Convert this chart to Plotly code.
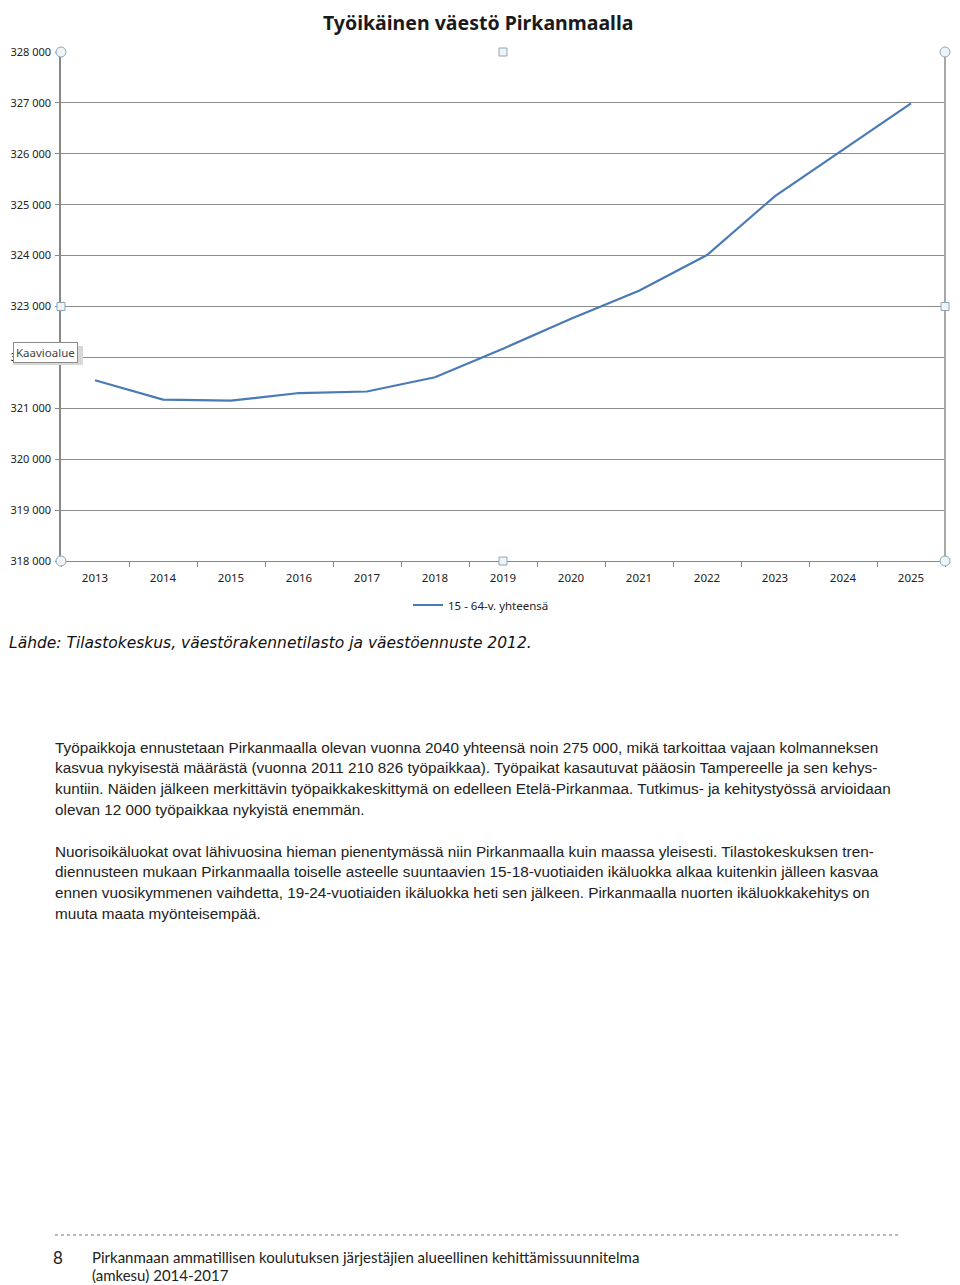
import plotly.graph_objects as go

# Data
years = ["2013", "2014", "2015", "2016", "2017", "2018", "2019",
         "2020", "2021", "2022", "2023", "2024", "2025"]
population = [321550, 321170, 321150, 321300, 321330, 321610, 322170,
              322760, 323310, 324010, 325170, 326080, 326990]
y_ticks = [318000, 319000, 320000, 321000, 322000, 323000,
           324000, 325000, 326000, 327000, 328000]
y_labels = [f"{v:,}".replace(",", " ") for v in y_ticks]

title_text = "Työikäinen väestö Pirkanmaalla"
series_name = "15 - 64-v. yhteensä"
source_text = "Lähde: Tilastokeskus, väestörakennetilasto ja väestöennuste 2012."
para1 = [
    "Työpaikkoja ennustetaan Pirkanmaalla olevan vuonna 2040 yhteensä noin 275 000, mikä tarkoittaa vajaan kolmanneksen",
    "kasvua nykyisestä määrästä (vuonna 2011 210 826 työpaikkaa). Työpaikat kasautuvat pääosin Tampereelle ja sen kehys-",
    "kuntiin. Näiden jälkeen merkittävin työpaikkakeskittymä on edelleen Etelä-Pirkanmaa. Tutkimus- ja kehitystyössä arvioidaan",
    "olevan 12 000 työpaikkaa nykyistä enemmän.",
]
para2 = [
    "Nuorisoikäluokat ovat lähivuosina hieman pienentymässä niin Pirkanmaalla kuin maassa yleisesti. Tilastokeskuksen tren-",
    "diennusteen mukaan Pirkanmaalla toiselle asteelle suuntaavien 15-18-vuotiaiden ikäluokka alkaa kuitenkin jälleen kasvaa",
    "ennen vuosikymmenen vaihdetta, 19-24-vuotiaiden ikäluokka heti sen jälkeen. Pirkanmaalla nuorten ikäluokkakehitys on",
    "muuta maata myönteisempää.",
]
footer_num = "8"
footer_lines = ["Pirkanmaan ammatillisen koulutuksen järjestäjien alueellinen kehittämissuunnitelma",
                "(amkesu) 2014-2017"]

# the page body has an 8px margin, so the figure is drawn 8px smaller
OFF = 8
W, H = 960 - OFF, 1285 - OFF
L, R, T, B = 61, 945, 52, 561  # plot area in page pixels


def px(x):
    return (x - L) / (R - L)


def py(y):
    return (B - y) / (B - T)


fig = go.Figure()
fig.add_trace(go.Scatter(
    x=years, y=population, mode="lines", name=series_name,
    line=dict(color="#4a7ab5", width=2.2),
))

ann = []
ann.append(dict(x=px(478), y=py(22), xref="paper", yref="paper", text=f"<b>{title_text}</b>",
                showarrow=False, xanchor="center", yanchor="middle",
                font=dict(family="Noto Sans", size=19.5, color="#1a1a1a")))
ann.append(dict(x=px(OFF), y=py(643), xref="paper", yref="paper", text=f"<i>{source_text}</i>",
                showarrow=False, xanchor="left", yanchor="middle", borderpad=0,
                font=dict(family="DejaVu Sans", size=15.5, color="#111")))
for i, line in enumerate(para1):
    ann.append(dict(x=px(53), y=py(747 + i * 20.7), xref="paper", yref="paper", text=line,
                    showarrow=False, xanchor="left", yanchor="middle",
                    font=dict(family="Liberation Sans", size=15.3, color="#222")))
for i, line in enumerate(para2):
    ann.append(dict(x=px(53), y=py(851 + i * 20.7), xref="paper", yref="paper", text=line,
                    showarrow=False, xanchor="left", yanchor="middle",
                    font=dict(family="Liberation Sans", size=15.3, color="#222")))
ann.append(dict(x=px(58), y=py(1257), xref="paper", yref="paper", text=footer_num,
                showarrow=False, xanchor="center", yanchor="middle",
                font=dict(family="Lato", size=17, color="#222")))
for i, line in enumerate(footer_lines):
    ann.append(dict(x=px(90), y=py(1257 + i * 18), xref="paper", yref="paper", text=line,
                    showarrow=False, xanchor="left", yanchor="middle",
                    font=dict(family="Lato", size=15, color="#222")))
# "Kaavioalue" tooltip left over from the screenshot
ann.append(dict(x=px(45), y=py(352.5), xref="paper", yref="paper", text="Kaavioalue",
                showarrow=False, xanchor="center", yanchor="middle",
                bgcolor="white", bordercolor="#8a8a8a", borderwidth=1, borderpad=2,
                font=dict(family="Noto Sans", size=11.5, color="#444")))

shapes = [
    # right frame of the chart area
    dict(type="line", xref="paper", yref="paper", x0=1, x1=1, y0=0, y1=1,
         line=dict(color="#a8a8a8", width=2)),
    # footer dotted rule
    dict(type="line", xref="paper", yref="paper", x0=px(55), x1=px(898), y0=py(1235), y1=py(1235),
         line=dict(color="#777", width=1, dash="dot")),
    # tooltip shadow
    dict(type="rect", xref="paper", yref="paper", x0=px(13), x1=px(83), y0=py(365), y1=py(346),
         fillcolor="#d8d8d8", line_width=0, layer="above"),
]
# selection handles on the plot area
for hx, hy, kind in [(0, 1, "circle"), (0.5, 1, "rect"), (1, 1, "circle"),
                     (0, 0.5, "rect"), (1, 0.5, "rect"),
                     (0, 0, "circle"), (0.5, 0, "rect"), (1, 0, "circle")]:
    s = 5 if kind == "circle" else 4
    shapes.append(dict(type=kind, xref="paper", yref="paper", xsizemode="pixel", ysizemode="pixel",
                       xanchor=hx, yanchor=hy, x0=-s, x1=s, y0=-s, y1=s,
                       fillcolor="#eef4f7", line=dict(color="#8fa6b3", width=1), layer="above"))

fig.update_layout(
    width=W, height=H,
    margin=dict(l=L - OFF, r=960 - R, t=T - OFF, b=1285 - B, autoexpand=False),
    paper_bgcolor="white", plot_bgcolor="white",
    showlegend=True,
    legend=dict(orientation="h", x=px(481), xanchor="center", y=py(605), yanchor="middle",
                font=dict(family="Noto Sans", size=11.5, color="#222"), itemwidth=30),
    xaxis=dict(type="category", range=[-0.5, 12.5], tickson="boundaries", ticks="outside",
               ticklen=5, tickcolor="#888", ticklabelstandoff=6, automargin=False,
               showline=True, linecolor="#888", linewidth=1, showgrid=False,
               tickfont=dict(family="Noto Sans", size=11.5, color="#222")),
    yaxis=dict(range=[318000, 328000], tickvals=y_ticks, ticktext=y_labels, ticks="outside",
               ticklen=4, tickcolor="#888", ticklabelstandoff=2, automargin=False,
               showline=True, linecolor="#888", linewidth=1.5,
               showgrid=True, gridcolor="#8c8c8c", gridwidth=1, zeroline=False,
               tickfont=dict(family="Noto Sans", size=11, color="#222")),
    annotations=ann,
    shapes=shapes,
)

fig.write_html("out.html")
